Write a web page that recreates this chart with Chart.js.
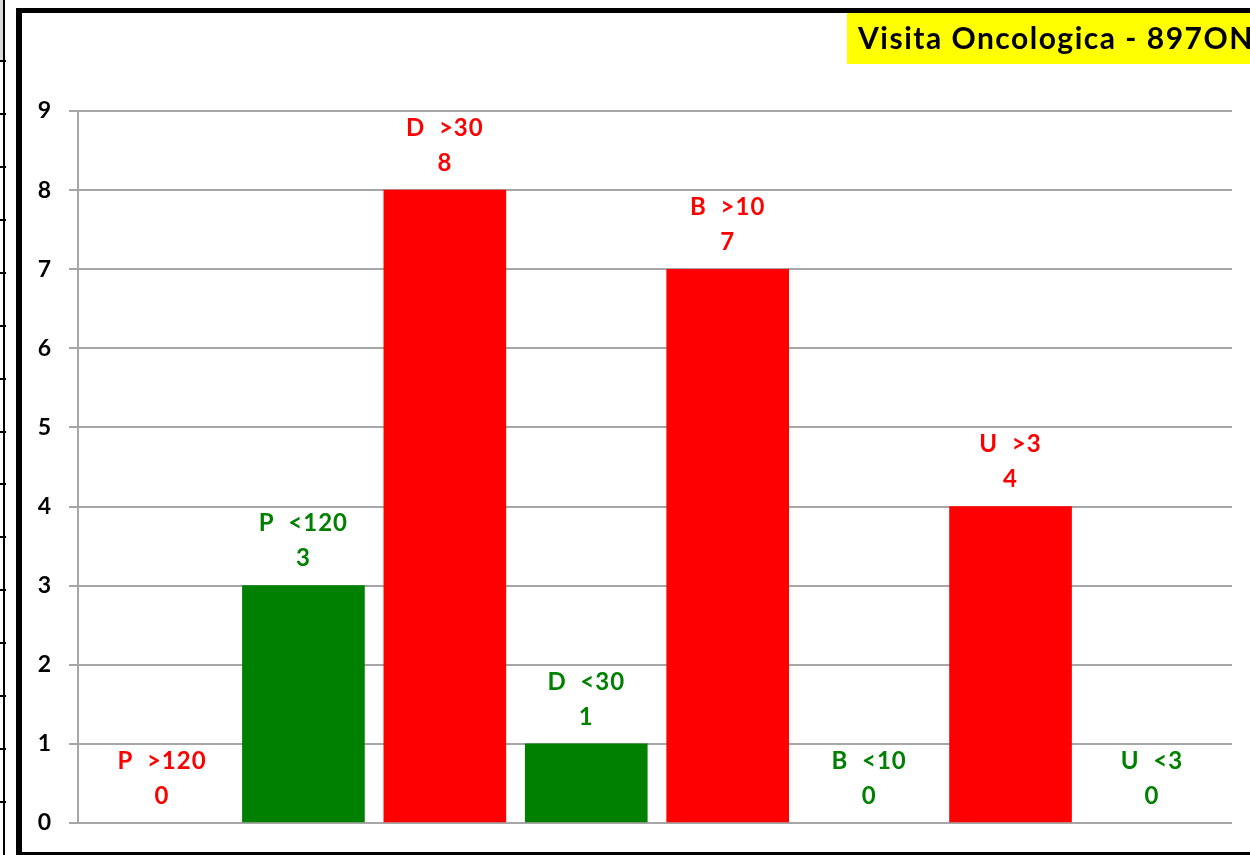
<!DOCTYPE html>
<html>
<head>
<meta charset="utf-8">
<script src="https://cdn.jsdelivr.net/npm/chart.js@4/dist/chart.umd.min.js"></script>
<style>
  html, body { margin: 0; padding: 0; background: #ffffff; }
  #wrap { position: relative; width: 1250px; height: 855px; }
</style>
</head>
<body>
<div id="wrap"><canvas id="c" width="1250" height="855"></canvas></div>
<script>
// ---- data ----
const categories = ['P  >120', 'P  <120', 'D  >30', 'D  <30', 'B  >10', 'B  <10', 'U  >3', 'U  <3'];
const values = [0, 3, 8, 1, 7, 0, 4, 0];
const yTickValues = [0, 1, 2, 3, 4, 5, 6, 7, 8, 9];
const chartTitle = 'Visita Oncologica - 897ON';

// ---- styles ----
const RED = '#FF0000';
const GREEN = '#008000';
const labelColors = values.map((v, i) => (i % 2 === 0 ? RED : GREEN));
const fillColors = values.map((v, i) => (v === 0 ? 'rgba(0,0,0,0)' : labelColors[i]));
const FONT = 'Lato, "Open Sans", "DejaVu Sans", sans-serif';

const points = values.map((v, i) => ({ x: i, y: v }));

const framePlugin = {
  id: 'frame',
  beforeDraw(chart) {
    const ctx = chart.ctx;
    ctx.save();
    ctx.fillStyle = '#ffffff';
    ctx.fillRect(0, 0, chart.width, chart.height);
    // spreadsheet strip on the far left
    ctx.fillStyle = '#d9d9d9';
    ctx.fillRect(0, 0, 3, 61);
    ctx.fillStyle = '#000000';
    ctx.fillRect(3, 0, 2, chart.height);
    const rows = [61, 114, 167, 220, 273, 326, 379, 432, 484, 537, 590, 643, 696, 749, 802];
    rows.forEach(r => ctx.fillRect(0, r - 1, 6, 2));
    // thick chart frame
    ctx.fillRect(16, 8, 6, chart.height - 8);
    ctx.fillRect(16, 8, chart.width - 16, 5);
    ctx.fillRect(16, 852, chart.width - 16, 3);
    // title box
    ctx.fillStyle = '#FFFF00';
    ctx.fillRect(847, 13, chart.width - 847, 51);
    ctx.fillStyle = '#000000';
    ctx.font = 'bold 30px ' + FONT;
    ctx.letterSpacing = '1.5px';
    ctx.textAlign = 'left';
    ctx.textBaseline = 'alphabetic';
    ctx.fillText(chartTitle, 858, 49);
    ctx.restore();
  }
};

const labelPlugin = {
  id: 'barLabels',
  afterDatasetsDraw(chart) {
    const ctx = chart.ctx;
    const meta = chart.getDatasetMeta(0);
    ctx.save();
    ctx.font = 'bold 24px ' + FONT;
    ctx.letterSpacing = '1px';
    ctx.textAlign = 'center';
    ctx.textBaseline = 'middle';
    meta.data.forEach((bar, i) => {
      ctx.fillStyle = labelColors[i];
      ctx.fillText(categories[i], bar.x, bar.y - 62);
      ctx.fillText(String(values[i]), bar.x, bar.y - 27);
    });
    ctx.restore();
  }
};

new Chart(document.getElementById('c'), {
  type: 'bar',
  data: {
    datasets: [{
      data: points,
      backgroundColor: fillColors,
      borderWidth: 0,
      barThickness: 122
    }]
  },
  options: {
    responsive: false,
    animation: false,
    layout: { padding: { top: 111, bottom: 32, right: 18, left: 0 } },
    plugins: { legend: { display: false }, tooltip: { enabled: false } },
    scales: {
      x: {
        type: 'linear',
        display: false,
        offset: false,
        min: -0.594,
        max: 7.566
      },
      y: {
        min: 0,
        max: 9,
        afterFit(scale) { scale.width = 78; },
        afterBuildTicks(scale) { scale.ticks = yTickValues.map(v => ({ value: v })); },
        grid: { color: '#a6a6a6', lineWidth: 2, tickLength: 9, drawTicks: true },
        border: { display: true, color: '#a6a6a6', width: 2 },
        ticks: {
          padding: 18,
          color: '#000000',
          font: { family: FONT, size: 23, weight: 'bold' }
        }
      }
    }
  },
  plugins: [framePlugin, labelPlugin]
});
</script>
</body>
</html>
